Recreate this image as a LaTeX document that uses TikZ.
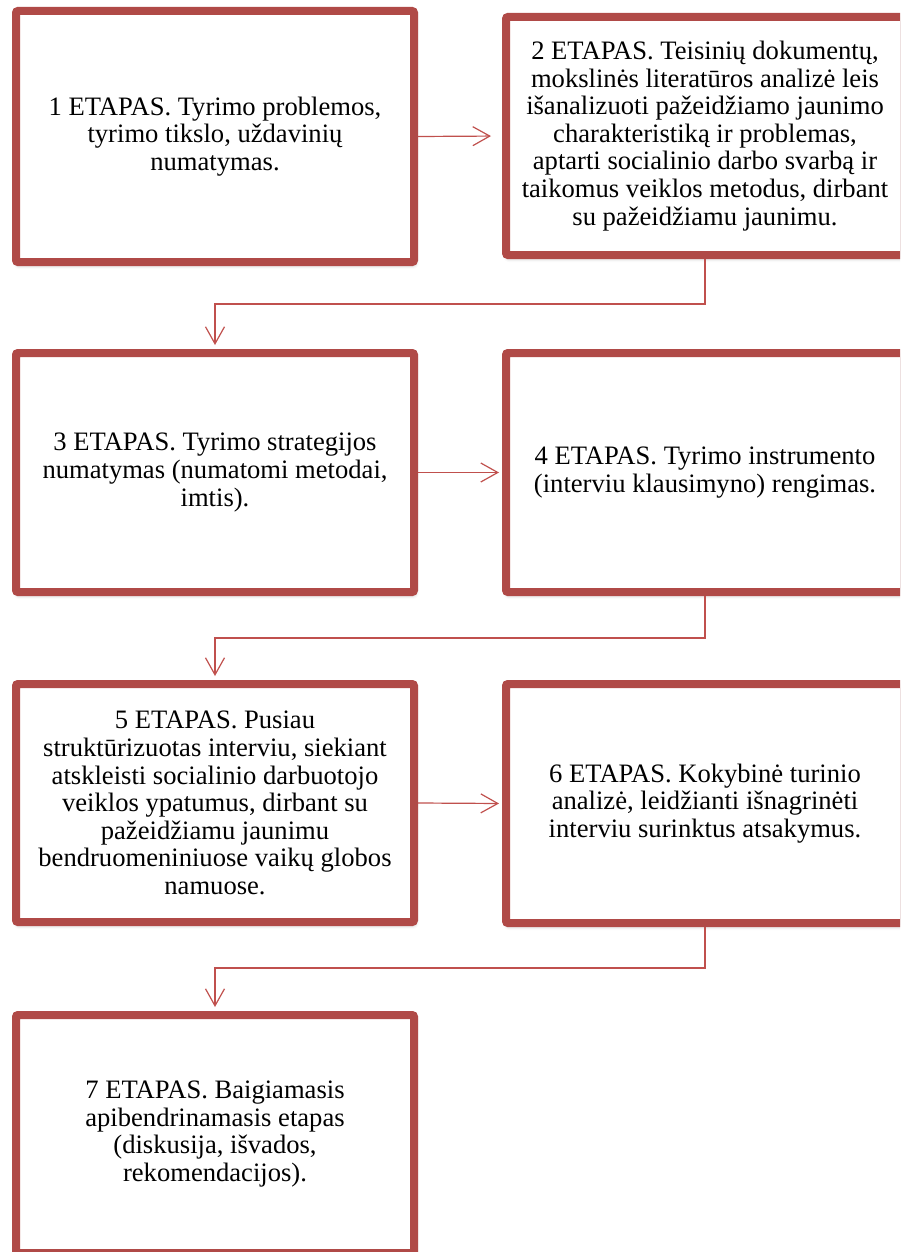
\documentclass[tikz,border=0pt]{standalone}
\usepackage{fontspec}
\setmainfont{Liberation Serif}
\usetikzlibrary{arrows.meta,shadows.blur}
\definecolor{boxred}{RGB}{176,74,71}
\definecolor{linered}{RGB}{192,80,77}
\begin{document}
\begin{tikzpicture}[x=1pt,y=-1pt,
  stagebox/.style={draw=boxred, line width=8pt, fill=white, rounded corners=2pt,
    minimum width=398pt, align=center, inner sep=0pt,
    font=\fontsize{26.6}{27.6}\selectfont,
    blur shadow={shadow xshift=1pt, shadow yshift=-3pt, shadow blur radius=4pt, shadow opacity=30}},
  conn/.style={draw=linered, line width=1.2pt,
    -{Straight Barb[length=17pt,width=19pt,line width=1.2pt]}}]
\path[use as bounding box, clip] (0,0) rectangle (900,1252);

\node[stagebox, minimum height=251pt] (b1) at (215,136.5)
  {1 ETAPAS. Tyrimo problemos,\\tyrimo tikslo, uždavinių\\numatymas.};
\node[stagebox, minimum height=238pt] (b2) at (705,136)
  {2 ETAPAS. Teisinių dokumentų,\\mokslinės literatūros analizė leis\\išanalizuoti pažeidžiamo jaunimo\\charakteristiką ir problemas,\\aptarti socialinio darbo svarbą ir\\taikomus veiklos metodus, dirbant\\su pažeidžiamu jaunimu.};
\node[stagebox, minimum height=239pt] (b3) at (215,472.5)
  {3 ETAPAS. Tyrimo strategijos\\numatymas (numatomi metodai,\\imtis).};
\node[stagebox, minimum height=239pt] (b4) at (705,472.5)
  {4 ETAPAS. Tyrimo instrumento\\(interviu klausimyno) rengimas.};
\node[stagebox, minimum height=238pt] (b5) at (215,803)
  {5 ETAPAS. Pusiau\\struktūrizuotas interviu, siekiant\\atskleisti socialinio darbuotojo\\veiklos ypatumus, dirbant su\\pažeidžiamu jaunimu\\bendruomeniniuose vaikų globos\\namuose.};
\node[stagebox, minimum height=239pt] (b6) at (705,803.5)
  {6 ETAPAS. Kokybinė turinio\\analizė, leidžianti išnagrinėti\\interviu surinktus atsakymus.};
\node[stagebox, minimum height=238pt] (b7) at (215,1134)
  {7 ETAPAS. Baigiamasis\\apibendrinamasis etapas\\(diskusija, išvados,\\rekomendacijos).};

\draw[conn, shorten >=11pt] (b1.east) -- (b2.west);
\draw[conn, shorten >=4pt] (b2.south) -- ++(0,45) -| (b3.north);
\draw[conn, shorten >=3pt] (b3.east) -- (b4.west);
\draw[conn, shorten >=4pt] (b4.south) -- ++(0,42) -| (b5.north);
\draw[conn, shorten >=3pt] (b5.east) -- (b6.west);
\draw[conn, shorten >=4pt] (b6.south) -- ++(0,41) -| (b7.north);
\end{tikzpicture}
\end{document}
